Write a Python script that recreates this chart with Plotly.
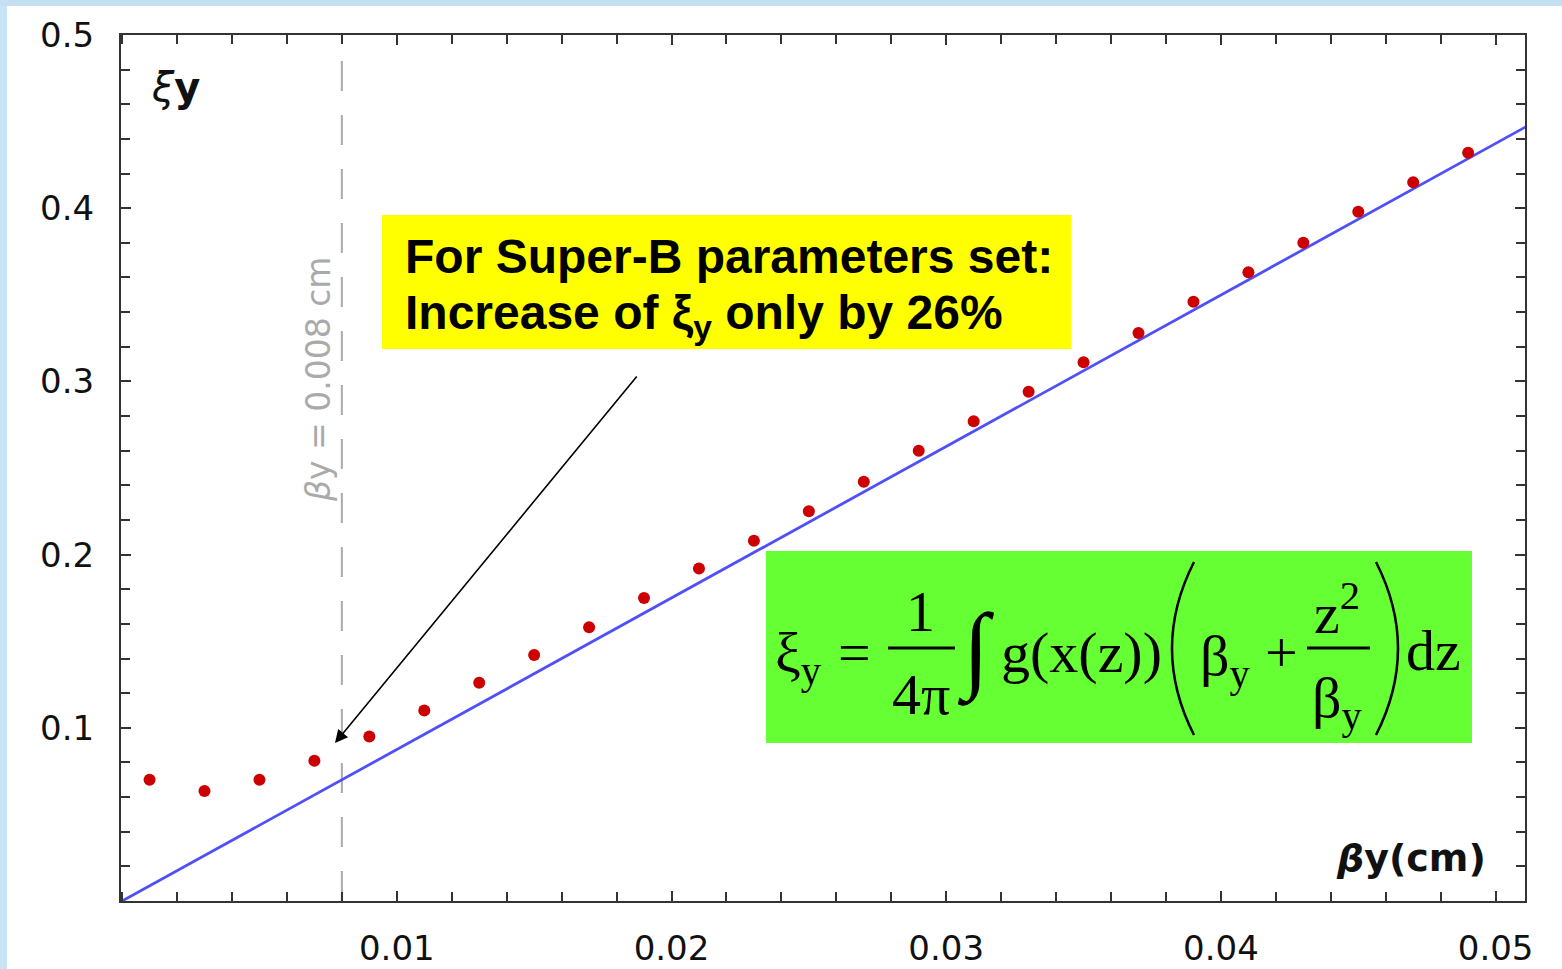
import plotly.graph_objects as go

# ---------------- data ----------------
beta_points = [0.001, 0.003, 0.005, 0.007, 0.009, 0.011, 0.013, 0.015, 0.017,
               0.019, 0.021, 0.023, 0.025, 0.027, 0.029, 0.031, 0.033, 0.035,
               0.037, 0.039, 0.041, 0.043, 0.045, 0.047, 0.049]
xi_points = [0.070, 0.0635, 0.070, 0.081, 0.095, 0.110, 0.126, 0.142, 0.158,
             0.175, 0.192, 0.208, 0.225, 0.242, 0.260, 0.277, 0.294, 0.311,
             0.328, 0.346, 0.363, 0.380, 0.398, 0.415, 0.432]
line_beta = [0.0, 0.0511]
line_xi = [0.0, 0.447]
marker_beta = 0.008

x_tickvals = [0.01, 0.02, 0.03, 0.04, 0.05]
x_ticktext = ["0.01", "0.02", "0.03", "0.04", "0.05"]
y_tickvals = [0.1, 0.2, 0.3, 0.4, 0.5]
y_ticktext = ["0.1", "0.2", "0.3", "0.4", "0.5"]

# ---------------- layout helpers ----------------
W, H = 1562, 969
PL, PR, PT, PB = 121, 1525, 35, 901


def px(X):
    return (X - PL) / (PR - PL)


def py(Y):
    return (PB - Y) / (PB - PT)


AX = "#333333"

fig = go.Figure()
fig.add_trace(go.Scatter(x=line_beta, y=line_xi, mode="lines",
                         line=dict(color="#5050fa", width=2.8),
                         hoverinfo="skip", showlegend=False))
fig.add_trace(go.Scatter(x=beta_points, y=xi_points, mode="markers",
                         marker=dict(color="#cc0000", size=12,
                                     line=dict(width=0)),
                         showlegend=False))

shapes = []
# light blue page strips
shapes.append(dict(type="rect", xref="paper", yref="paper",
                   x0=px(0), x1=px(7), y0=py(H), y1=py(0),
                   fillcolor="#c8e4f6", line=dict(width=0), layer="above"))
shapes.append(dict(type="rect", xref="paper", yref="paper",
                   x0=px(0), x1=px(W), y0=py(6), y1=py(0),
                   fillcolor="#c4e0f2", line=dict(width=0), layer="above"))
# dashed vertical line
shapes.append(dict(type="line", xref="x", yref="paper",
                   x0=marker_beta, x1=marker_beta, y0=0, y1=1,
                   line=dict(color="#aaaaaa", width=2, dash="30px,24px"),
                   layer="below"))
# yellow box
shapes.append(dict(type="rect", xref="paper", yref="paper",
                   x0=px(382), x1=px(1071), y0=py(349), y1=py(215),
                   fillcolor="#ffff00", line=dict(width=0), layer="above"))
# green box
shapes.append(dict(type="rect", xref="paper", yref="paper",
                   x0=px(766), x1=px(1472), y0=py(743), y1=py(551),
                   fillcolor="#66ff33", line=dict(width=0), layer="above"))
# fraction bars
for (a, b) in [(888, 955), (1307, 1370)]:
    shapes.append(dict(type="line", xref="paper", yref="paper",
                       x0=px(a), x1=px(b), y0=py(648), y1=py(648),
                       line=dict(color="black", width=3), layer="above"))


def paren(x_end, x_ctrl, y_top=562, y_bot=735):
    return dict(type="path", xref="paper", yref="paper",
                path=f"M {px(x_end)},{py(y_top)} Q {px(x_ctrl)},{py((y_top + y_bot) / 2)} {px(x_end)},{py(y_bot)}",
                line=dict(color="black", width=2.5), layer="above")


shapes.append(paren(1194, 1150))
shapes.append(paren(1376, 1420))

ann = []
SERIF = "Liberation Serif, Times New Roman, serif"


def txt(t, X, Y, size, family=SERIF, color="black", xanchor="center", angle=0):
    ann.append(dict(text=t, x=px(X), y=py(Y), xref="paper", yref="paper",
                    showarrow=False, xanchor=xanchor, yanchor="middle",
                    textangle=angle,
                    font=dict(family=family, size=size, color=color)))


# formula pieces
txt("ξ<sub>y</sub>", 798, 656, 58)
txt("=", 855, 652, 58)
txt("1", 920, 611, 58)
txt("4π", 921, 694, 58)
txt("∫", 976, 650, 96)
txt("g(x(z))", 1081, 652, 58)
txt("β<sub>y</sub>", 1225, 659, 58)
txt("+", 1281, 652, 58)
txt("z<sup>2</sup>", 1337, 609, 58)
txt("β<sub>y</sub>", 1337, 701, 58)
txt("dz", 1433, 650, 58)

# yellow box text
BOLD = "Liberation Sans Narrow, Arial Narrow, Liberation Sans, Arial"
txt("<b>For Super-B parameters set:</b>", 403, 256, 48, family=BOLD, xanchor="left")
txt("<b>Increase of ξ<sub>y</sub> only by 26%</b>", 403, 316, 48, family=BOLD, xanchor="left")

# axis labels inside plot
txt("<i>ξ</i><b>y</b>", 175, 87, 40, family="DejaVu Sans, sans-serif", color="#111111")
txt("<b><i>β</i>y(cm)</b>", 1411, 858, 38, family="DejaVu Sans, sans-serif", color="#111111")
# rotated marker label
txt("<i>β</i>y = 0.008 cm", 318, 380, 33, family="DejaVu Sans, sans-serif",
    color="#aaaaaa", angle=-90)

# arrow
ann.append(dict(text="", x=px(335), y=py(743), xref="paper", yref="paper",
                ax=303, ay=-368, showarrow=True, arrowhead=2, arrowsize=1.6,
                arrowwidth=1.6, arrowcolor="black", standoff=0))

tickfont = dict(family="DejaVu Sans, sans-serif", size=34, color="#111111")

fig.update_layout(
    width=W, height=H, autosize=False,
    margin=dict(l=PL, r=W - PR, t=PT, b=H - PB, pad=0),
    paper_bgcolor="white", plot_bgcolor="white",
    shapes=shapes, annotations=ann, showlegend=False,
    xaxis=dict(range=[-0.00004, 0.05107], tickmode="array",
               tickvals=x_tickvals, ticktext=x_ticktext, automargin=False,
               ticks="inside", ticklen=10, tickwidth=2, tickcolor=AX,
               showline=True, linecolor=AX, linewidth=2, mirror="ticks",
               showgrid=False, zeroline=False, tickfont=tickfont,
               ticklabelstandoff=16,
               minor=dict(dtick=0.002, tick0=0, ticks="inside", ticklen=9,
                          tickwidth=2, tickcolor=AX, showgrid=False)),
    yaxis=dict(range=[0, 0.5], tickmode="array",
               tickvals=y_tickvals, ticktext=y_ticktext, automargin=False,
               ticks="inside", ticklen=10, tickwidth=2, tickcolor=AX,
               showline=True, linecolor=AX, linewidth=2, mirror="ticks",
               showgrid=False, zeroline=False, tickfont=tickfont,
               ticklabelstandoff=18,
               minor=dict(dtick=0.02, tick0=0, ticks="inside", ticklen=9,
                          tickwidth=2, tickcolor=AX, showgrid=False)),
)

fig.write_html("out.html", config=dict(responsive=False))
